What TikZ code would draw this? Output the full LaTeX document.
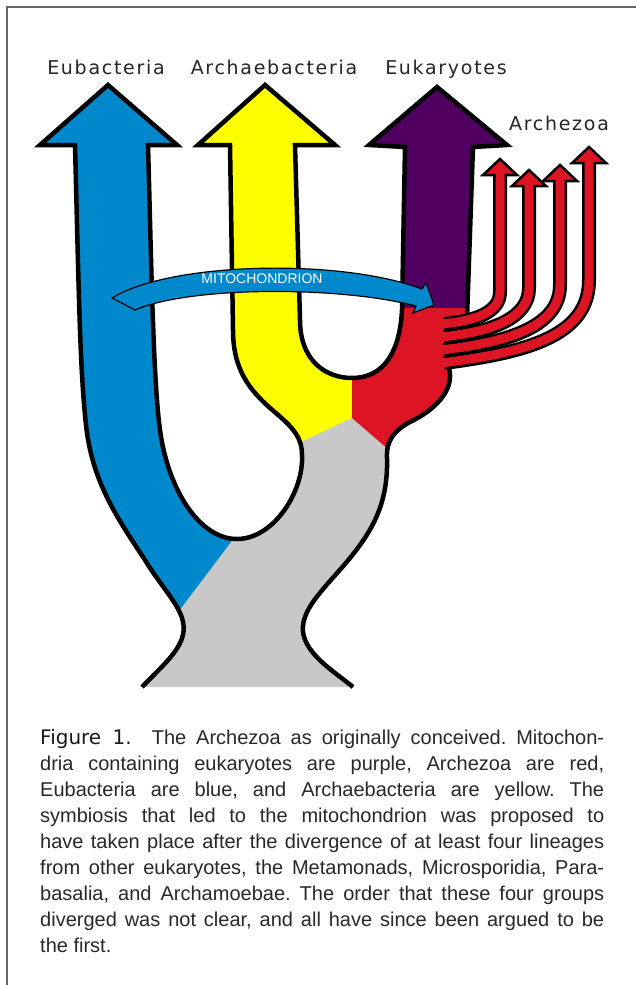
\documentclass[tikz,border=0pt]{standalone}
\usepackage{fontspec}
\setmainfont{Liberation Sans}
\newfontfamily\labelfont[LetterSpace=9]{DejaVu Sans}
\newfontfamily\figfont{DejaVu Sans}

\definecolor{eubac}{RGB}{0,136,204}
\definecolor{archae}{RGB}{255,255,0}
\definecolor{eukar}{RGB}{80,0,96}
\definecolor{archez}{RGB}{220,20,35}
\definecolor{stem}{RGB}{200,200,200}
\definecolor{captext}{RGB}{40,40,40}

% outline of the whole tree, open at the bottom
\newcommand\trunkpath{(142,687) .. controls (165,663) and (188,645) .. (183,622)
  .. controls (180,605) and (160,585) .. (145,560)
  .. controls (115,515) and (92,480) .. (86,425)
  .. controls (80,370) and (79,300) .. (75,145)
  -- (40,145) -- (108,85) -- (177,145) -- (148,145)
  .. controls (151,250) and (153,380) .. (160,430)
  .. controls (168,490) and (200,540) .. (238,539)
  .. controls (275,538) and (304,490) .. (302,455)
  .. controls (302,435) and (290,425) .. (270,408)
  .. controls (250,390) and (233,370) .. (233,330)
  -- (230,145) -- (198,145) -- (265,85) -- (335,145) -- (295,145)
  -- (300,320) .. controls (300,360) and (325,378) .. (352,378)
  .. controls (385,378) and (400,350) .. (402,310)
  -- (405,147) -- (369,145) -- (437,87) -- (507,145) -- (473,147)
  -- (467,318) -- (455,345) -- (449,368)
  .. controls (455,390) and (435,410) .. (410,422)
  .. controls (395,430) and (386,440) .. (387,458)
  .. controls (388,495) and (378,520) .. (360,545)
  .. controls (335,580) and (300,605) .. (303,632)
  .. controls (306,655) and (335,672) .. (353,687)}

\begin{document}
\begin{tikzpicture}[x=1pt,y=-1pt,
  outline/.style={line width=4.5pt,line join=miter,black},
  lab/.style={font=\labelfont\fontsize{19}{23}\selectfont,anchor=base,text=black!85,inner sep=0pt},
  fingerline/.style={line width=14pt,black},
  fingerfill/.style={line width=9pt,archez},
  fingerhead/.style={fill=archez,draw=black,line width=2.5pt,line join=miter},
  mito/.style={fill=eubac,draw=black,line width=1.2pt,line join=miter}]
  \useasboundingbox (0,0) rectangle (636,985);
  \fill[white] (0,0) rectangle (636,985);

  \fill[stem] \trunkpath;
  \begin{scope}
    \clip \trunkpath;
    \fill[eubac] (0,0) -- (190,0) -- (190,505) -- (240,530) -- (160,636) -- (0,636) -- cycle;
    \fill[archae] (195,0) -- (352,0) -- (352,418) -- (290,447) -- (195,447) -- cycle;
    \fill[eukar] (352,0) -- (530,0) -- (530,308) -- (352,308) -- cycle;
    \fill[archez] (352,308) -- (530,308) -- (530,456) -- (396,456) -- (352,418) -- cycle;
  \end{scope}
  \draw[outline] \trunkpath;

  \foreach \sy/\ax/\ay/\cx/\by/\ey/\tip in {363/530/352/589/335/280/147, 350/510/342/560/326/285/165,
                                            337/492/332/529/318/288/170, 324/476/321/500/312/292/159}{
    \draw[fingerline] (444,\sy) .. controls (\ax,\ay) and (\cx,\by) .. (\cx,\ey) -- (\cx,\tip+16);
    \draw[fingerhead] (\cx-17,\tip+16) -- (\cx,\tip) -- (\cx+17,\tip+16) -- cycle;
    \draw[fingerfill] (441,\sy) .. controls (\ax,\ay) and (\cx,\by) .. (\cx,\ey) -- (\cx,\tip+13);
  }

  \draw[mito] (112,298) .. controls (170,262) and (340,258) .. (422,289) -- (426,283)
    -- (434,305) -- (413,313) -- (416,306) .. controls (340,286) and (190,286) .. (135,310) -- cycle;
  \node[text=white,font=\fontsize{14}{16}\selectfont,inner sep=0pt] (mt) at (262,279) {MITOCHONDRION};

  \node[lab] (eub) at (106,74) {Eubacteria};
  \node[lab] (arb) at (274,74) {Archaebacteria};
  \node[lab] (euk) at (446,74) {Eukaryotes};
  \node[lab] (arz) at (559,130) {Archezoa};

  \node[anchor=north west,inner sep=0pt,text width=564pt,align=justify,text=captext,
        font=\fontsize{20}{26}\selectfont] (cap) at (40,729)
    {\frenchspacing\hyphenpenalty=10000{\figfont\color{black!90}Figure 1.}\ \ The Archezoa as originally conceived. Mitochon-\linebreak
     dria containing eukaryotes are purple, Archezoa are red,\linebreak
     Eubacteria are blue, and Archaebacteria are yellow. The\linebreak
     symbiosis that led to the mitochondrion was proposed to\linebreak
     have taken place after the divergence of at least four lineages\linebreak
     from other eukaryotes, the Metamonads, Microsporidia, Para-\linebreak
     basalia, and Archamoebae. The order that these four groups\linebreak
     diverged was not clear, and all have since been argued to be\linebreak
     the first.};

  \draw[line width=1.5pt,black!60] (636,7) -- (7,7) -- (7,985);
\end{tikzpicture}
\end{document}
